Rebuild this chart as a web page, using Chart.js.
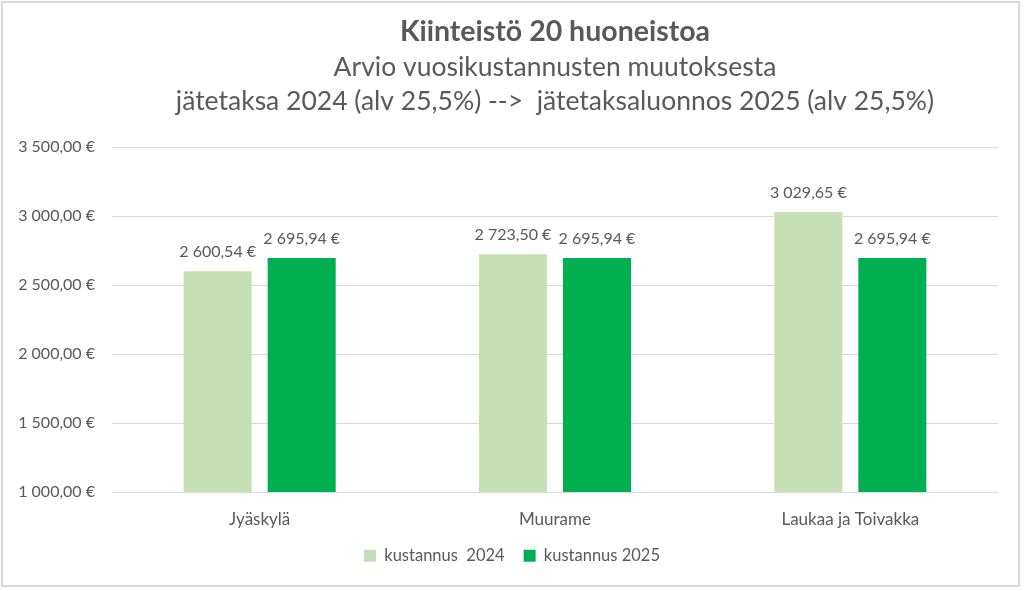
<!DOCTYPE html>
<html><head><meta charset="utf-8">
<script src="https://cdn.jsdelivr.net/npm/chart.js@4.4.1/dist/chart.umd.min.js"></script>
<style>html,body{margin:0;padding:0;background:#fff;}#wrap{width:1024px;height:591px;}</style>
</head><body><div id="wrap"><canvas id="c" width="1024" height="591"></canvas></div>
<script>
const categories = ['Jyäskylä', 'Muurame', 'Laukaa ja Toivakka'];
const series2024 = [2600.54, 2723.50, 3029.65];
const series2025 = [2695.94, 2695.94, 2695.94];
const seriesNames = ['kustannus  2024', 'kustannus 2025'];
const titleText = 'Kiinteistö 20 huoneistoa';
const subtitleLines = ['Arvio vuosikustannusten muutoksesta', 'jätetaksa 2024 (alv 25,5%) -->  jätetaksaluonnos 2025 (alv 25,5%)'];
const yMin = 1000, yMax = 3500, yStep = 500;

const FONT = 'Lato, "Open Sans", sans-serif';
const TXT = '#595959';
function fmt(v){
  const parts = Number(v).toFixed(2).split('.');
  return parts[0].replace(/\B(?=(\d{3})+(?!\d))/g, ' ') + ',' + parts[1] + ' €';
}

const frame = {
  id: 'frame',
  beforeDraw(chart){
    const ctx = chart.ctx;
    ctx.save();
    ctx.fillStyle = '#fff';
    ctx.fillRect(0, 0, chart.width, chart.height);
    ctx.strokeStyle = '#d9d9d9';
    ctx.lineWidth = 2;
    ctx.strokeRect(2, 2, 1017, 584);
    ctx.restore();
  }
};
const valueLabels = {
  id: 'valueLabels',
  afterDatasetsDraw(chart){
    const ctx = chart.ctx;
    ctx.save();
    ctx.font = '16px ' + FONT;
    ctx.fillStyle = TXT;
    ctx.textAlign = 'center';
    ctx.textBaseline = 'middle';
    chart.data.datasets.forEach((ds, i) => {
      chart.getDatasetMeta(i).data.forEach((bar, j) => {
        ctx.fillText(fmt(ds.data[j]), bar.x, bar.y - 19);
      });
    });
    ctx.restore();
  }
};

new Chart(document.getElementById('c'), {
  type: 'bar',
  data: {
    labels: categories,
    datasets: [
      { label: seriesNames[0], data: series2024, backgroundColor: '#C5E0B4', categoryPercentage: 0.569, barPercentage: 0.81 },
      { label: seriesNames[1], data: series2025, backgroundColor: '#00B050', categoryPercentage: 0.569, barPercentage: 0.81 }
    ]
  },
  options: {
    responsive: false,
    animation: false,
    devicePixelRatio: 1,
    layout: { padding: { top: 0, left: 0, right: 0, bottom: 17 } },
    plugins: {
      title: {
        display: true, text: titleText, fullSize: false, color: TXT,
        font: { family: FONT, size: 28.5, weight: 'bold', lineHeight: '30px' },
        padding: { top: 17, bottom: 3 }
      },
      subtitle: {
        display: true, text: subtitleLines, fullSize: false, color: TXT,
        font: { family: FONT, size: 26.5, weight: 'normal', lineHeight: '34px' },
        padding: { top: 0, bottom: 29 }
      },
      legend: {
        position: 'bottom',
        labels: { boxWidth: 12, boxHeight: 12, padding: 19, color: TXT, font: { family: FONT, size: 16.5 } }
      },
      tooltip: { enabled: false }
    },
    scales: {
      x: {
        grid: { display: false },
        border: { display: false },
        ticks: { color: TXT, padding: 11, font: { family: FONT, size: 17, lineHeight: 1 } },
        afterFit(s){ s.height = 36.5; }
      },
      y: {
        min: yMin, max: yMax,
        grid: { color: '#d9d9d9', drawTicks: false },
        border: { display: false },
        ticks: { stepSize: yStep, color: TXT, padding: 17, font: { family: FONT, size: 16 }, callback: v => fmt(v) },
        afterFit(s){ s.width = 112; }
      },
      yRight: {
        position: 'right', display: true,
        grid: { display: false }, border: { display: false },
        ticks: { display: false },
        afterFit(s){ s.width = 26; }
      }
    }
  },
  plugins: [frame, valueLabels]
});
</script>
</body></html>
